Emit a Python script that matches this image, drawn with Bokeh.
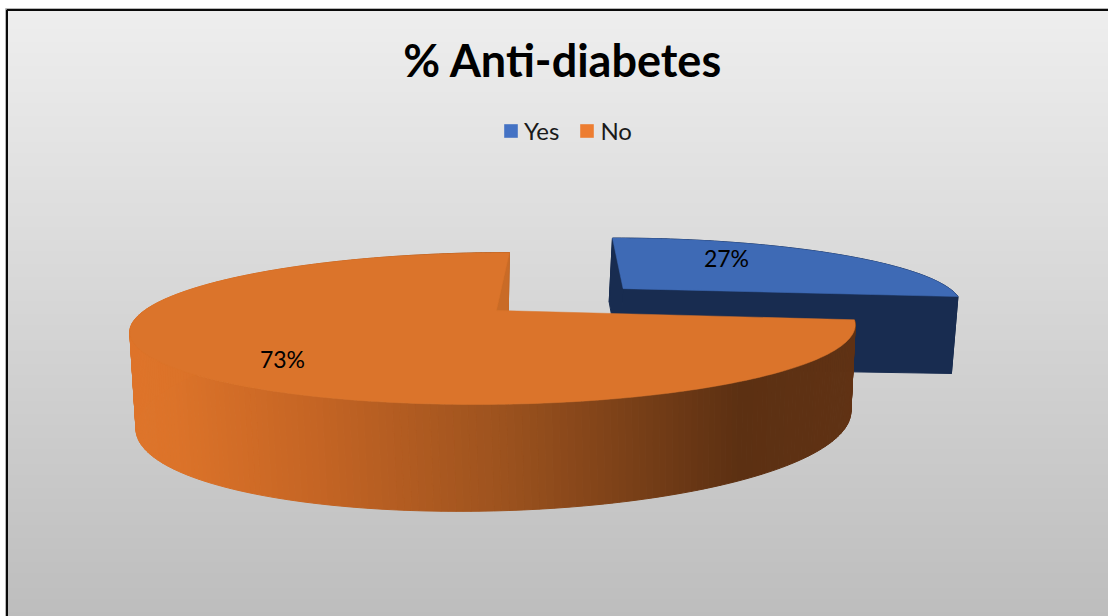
import math
import numpy as np
from bokeh.core.properties import value
from bokeh.embed import file_html
from bokeh.models import Label, Legend, LegendItem, Range1d
from bokeh.plotting import figure
from bokeh.resources import INLINE

# Chart content
title_text = "% Anti-diabetes"
categories = ["Yes", "No"]
shares = [27, 73]
explode = [0.497, 0.0]

# Slice colours
legend_colors = ["#4472C4", "#ED7D31"]
top_colors = ["#3E6AB5", "#DB742B"]
wall_dark = ["#182C50", "#C96B27"]
rim_stops_x = [136, 175, 314, 508, 740, 860]
rim_stops_rgb = [(222, 116, 42), (220, 115, 41), (198, 101, 36), (156, 82, 30), (92, 48, 18), (96, 50, 20)]

W, H = 1108, 616


def top_plane(u, v):
    """Perspective projection of disc coordinates on the upper face."""
    w = 1 + 0.237 * v
    return 496 + (352 * u + 16 * v) / w, 310 - 71.7 * v / w


def bottom_plane(u, v):
    """Perspective projection of disc coordinates on the lower face."""
    return (
        (496.4 + 347 * u + 131.4 * v) / (1 + 0.237 * v),
        (397 - 8 * v - 4.9 * u) / (1 + 0.207 * v),
    )


def disc(theta, ox=0.0, oy=0.0, r=1.0):
    return ox + r * np.sin(theta), oy + r * np.cos(theta)


def rim_color(x):
    rgb = [np.interp(x, rim_stops_x, [c[i] for c in rim_stops_rgb]) for i in range(3)]
    return "#%02x%02x%02x" % tuple(int(round(c)) for c in rgb)


p = figure(
    width=W, height=H, output_backend="svg", toolbar_location=None,
    x_range=Range1d(0, W), y_range=Range1d(H, 0),
    x_axis_type=None, y_axis_type=None, min_border=0,
    background_fill_color="white", border_fill_color="white", outline_line_color=None,
)
p.grid.visible = False

# Chart-area background: vertical grey gradient inside a black frame
edges = np.arange(9, H + 2, 2)
t = (edges[:-1] - 9) / (H - 9)
shade = (238 - t * (238 - 189)).round().astype(int)
p.quad(left=6, right=W, top=edges[:-1], bottom=edges[1:] + 0.5,
       fill_color=["#%02x%02x%02x" % (s, s, s) for s in shade], line_color=None)
p.line([6.5, 6.5, W], [H, 9.5, 9.5], line_color="#0a0a0a", line_width=2)
p.line([5, 5, W], [H, 8, 8], line_color="#b8b8b8", line_width=1)

# Angular extent of each slice, clockwise from twelve o'clock
total = sum(shares)
starts = np.cumsum([0] + shares[:-1]) / total * 2 * math.pi
sweeps = np.array(shares) / total * 2 * math.pi

for i, (start, sweep) in enumerate(zip(starts, sweeps)):
    mid = start + sweep / 2
    ox, oy = explode[i] * math.sin(mid), explode[i] * math.cos(mid)
    end = start + sweep
    thetas = np.linspace(start, end, int(sweep * 60) + 2)
    u, v = disc(thetas, ox, oy)

    # Outer rim, one band per angular step
    xt, yt = top_plane(u, v)
    xb, yb = bottom_plane(u, v)
    xs, ys, cols = [], [], []
    for j in range(len(thetas) - 1):
        xs.append([xt[j], xt[j + 1], xb[j + 1], xb[j]])
        ys.append([yt[j], yt[j + 1], yb[j + 1], yb[j]])
        cols.append(rim_color((xt[j] + xb[j]) / 2) if i == 1 else wall_dark[0])
    p.patches(xs, ys, fill_color=cols, line_color=cols, line_width=1)

    # Radial cut faces; the orange slice only shows the one at twelve o'clock
    ax_t, ay_t = top_plane(ox, oy)
    ax_b, ay_b = bottom_plane(ox, oy)
    for theta in ((start, end) if i == 0 else (end,)):
        eu, ev = disc(theta, ox, oy)
        ex_t, ey_t = top_plane(eu, ev)
        ex_b, ey_b = bottom_plane(eu, ev)
        col = wall_dark[i]
        p.patch([ax_t, ex_t, ex_b, ax_b], [ay_t, ey_t, ey_b, ay_b],
                fill_color=col, line_color=col, line_width=1)

    # Upper face
    px, py = top_plane(u, v)
    p.patch(np.r_[ax_t, px], np.r_[ay_t, py], fill_color=top_colors[i], line_color=top_colors[i], line_width=0.5)

# Percentage labels
p.text(x=[726, 282], y=[257, 358], text=[f"{s}%" for s in shares],
       text_font=value("Lato"), text_font_size="23px", text_color="#000000",
       text_align="center", text_baseline="middle")

# Title
p.add_layout(Label(x=562.5, y=59, text=title_text, text_font="Lato", text_font_style="bold",
                   text_font_size="45px", text_color="#000000",
                   text_align="center", text_baseline="middle"))

# Legend swatches
items = []
for name, col in zip(categories, legend_colors):
    r = p.quad(left=[0], right=[0], top=[0], bottom=[0], fill_color=col, line_color=None)
    items.append(LegendItem(label=name, renderers=[r]))
legend = Legend(items=items, orientation="horizontal", location=(502, 471),
                background_fill_alpha=0, border_line_color=None,
                glyph_width=17, glyph_height=17, label_text_font="Lato",
                label_text_font_size="24px", label_text_color="#1a1a1a",
                spacing=19, label_standoff=5, padding=6, margin=0)
p.add_layout(legend)

open("out.html", "w").write(file_html(p, INLINE))
